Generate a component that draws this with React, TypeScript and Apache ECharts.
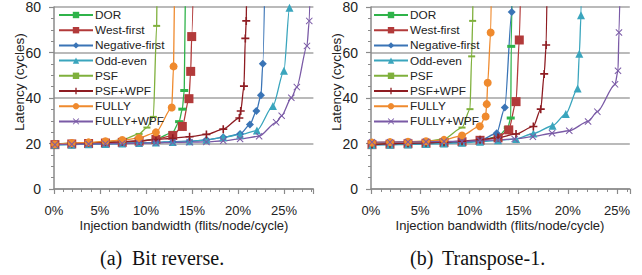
import React, { useEffect, useRef } from "react";
import * as echarts from "echarts";

const seriesNames = ["DOR", "West-first", "Negative-first", "Odd-even", "PSF", "PSF+WPF", "FULLY", "FULLY+WPF"];
const xTickValues = [0, 5, 10, 15, 20, 25];
const yTickValues = [0, 20, 40, 60, 80];

// (a) Bit reverse: [injection %, latency]
const bitDOR = [[0.1,19.6],[1.93,19.8],[3.76,20.0],[5.59,20.2],[7.42,20.5],[9.25,21.0],[11.08,22.0],[12.91,24.9],[13.6,29.6],[13.95,35.1],[14.16,43.3],[14.35,120]];
const bitWF = [[0.1,19.5],[1.93,19.8],[3.76,20.0],[5.59,20.2],[7.42,20.5],[9.25,21.0],[11.08,21.8],[12.91,23.5],[13.95,27.5],[14.67,39.7],[14.86,51.7],[14.97,67.0],[15.25,110]];
const bitNF = [[0.1,19.4],[1.93,19.6],[3.76,19.8],[5.59,19.9],[7.42,20.1],[9.25,20.3],[11.08,20.5],[12.91,20.8],[14.74,21.0],[16.57,21.6],[18.4,22.7],[20.23,24.2],[21.3,28.3],[22.0,34.3],[22.5,41.2],[22.7,55.1],[23.0,110]];
const bitOE = [[0.1,19.4],[1.93,19.5],[3.76,19.7],[5.59,19.8],[7.42,20.0],[9.25,20.2],[11.08,20.4],[12.91,20.7],[14.74,21.0],[16.57,21.6],[18.4,22.7],[20.23,23.9],[22.06,25.7],[23.8,36.5],[25.0,52.0],[25.6,79.7],[25.75,110]];
const bitPSF = [[0.1,19.8],[1.93,20.1],[3.76,20.3],[5.59,20.7],[7.42,21.6],[9.25,24.2],[10.1,27.0],[10.8,31.7],[11.16,71.7],[11.25,110]];
const bitPSFWPF = [[0.1,19.7],[1.93,20.0],[3.76,20.2],[5.59,20.5],[7.42,20.8],[9.25,21.2],[11.08,21.7],[12.91,22.3],[14.74,23.0],[16.57,24.0],[18.4,26.3],[20.15,31.2],[20.3,34.3],[20.65,45.2],[20.8,66.2],[20.9,73.9],[21.0,110]];
const bitFULLY = [[0.1,19.7],[1.93,20.2],[3.76,20.5],[5.59,21.0],[7.42,21.5],[9.25,22.4],[11.08,24.9],[12.8,35.8],[13.0,53.9],[13.15,110]];
const bitFWPF = [[0.1,19.5],[1.93,19.7],[3.76,19.8],[5.59,19.9],[7.42,20.0],[9.25,20.1],[11.08,20.3],[12.91,20.5],[14.74,20.6],[16.57,20.7],[18.4,21.2],[20.23,22.0],[22.3,23.2],[24.15,29.3],[24.75,32.2],[25.8,40.1],[26.4,44.8],[27.5,62.9],[27.75,73.9],[27.95,110]];

// (b) Transpose-1
const trDOR = [[0.1,19.5],[1.93,19.7],[3.76,19.9],[5.59,20.1],[7.42,20.3],[9.25,20.7],[11.08,21.3],[12.91,23.0],[13.9,27.0],[14.2,31.2],[14.25,62.7],[14.4,110]];
const trWF = [[0.1,19.5],[1.93,19.7],[3.76,19.9],[5.59,20.1],[7.42,20.4],[9.25,20.8],[11.08,21.4],[12.91,22.5],[14.0,26.0],[14.74,38.4],[15.07,65.5],[15.3,110]];
const trNF = [[0.1,19.4],[1.93,19.6],[3.76,19.8],[5.59,20.0],[7.42,20.2],[9.25,20.6],[11.08,21.3],[12.77,24.5],[13.6,35.8],[14.3,77.8],[14.4,110]];
const trOE = [[0.1,19.3],[1.93,19.4],[3.76,19.6],[5.59,19.8],[7.42,20.0],[9.25,20.3],[11.08,20.8],[12.91,21.4],[14.74,22.0],[16.5,24.4],[18.45,27.8],[19.8,33.0],[21.0,44.2],[21.17,59.4],[21.34,76.4],[21.45,110]];
const trPSF = [[0.1,20.3],[1.93,20.5],[3.76,20.7],[5.59,21.0],[7.42,22.0],[9.25,27.0],[10.06,35.1],[10.23,58.3],[10.33,73.9],[10.42,110]];
const trPSFWPF = [[0.1,19.6],[1.93,19.9],[3.76,20.1],[5.59,20.3],[7.42,20.6],[9.25,21.0],[11.08,21.7],[12.91,22.6],[14.74,24.2],[16.5,27.5],[17.25,35.1],[17.6,50.6],[17.8,63.3],[17.95,110]];
const trFULLY = [[0.1,20.4],[1.93,20.6],[3.76,20.8],[5.59,21.0],[7.42,21.6],[9.25,23.5],[11.05,27.6],[11.65,31.9],[11.76,37.3],[11.86,46.7],[12.16,68.8],[12.3,110]];
const trFWPF = [[0.1,20.6],[1.93,20.6],[3.76,20.7],[5.59,20.8],[7.42,20.9],[9.25,21.0],[11.08,21.3],[12.91,21.6],[14.6,22.0],[16.45,23.0],[18.4,24.5],[20.15,25.6],[22.06,29.7],[23.0,34.0],[24.8,46.0],[25.1,52.0],[25.2,68.8],[25.4,110]];

const bitData = [bitDOR, bitWF, bitNF, bitOE, bitPSF, bitPSFWPF, bitFULLY, bitFWPF];
const trData = [trDOR, trWF, trNF, trOE, trPSF, trPSFWPF, trFULLY, trFWPF];

const colors = ["#2fb34a", "#b23a3a", "#3a74b6", "#3aa5bd", "#7fb03c", "#8e1c22", "#ef8a2e", "#7a5aa6"];
const DASH = "path://M0,0H10V3H0Z";
const PLUS = "path://M4,0H6V4H10V6H6V10H4V6H0V4H4Z";
const CROSS = "path://M1,0L5,4L9,0L10,1L6,5L10,9L9,10L5,6L1,10L0,9L4,5L0,1Z";
const symbols = [DASH, "rect", "diamond", "triangle", DASH, PLUS, "circle", CROSS];
const symbolSizes: any[] = [[8, 3], 9, 8, 8, [7, 2], 8, 8, 7];

const SANS = "Liberation Sans, Arial, Helvetica, sans-serif";
const SERIF = "Liberation Serif, Times New Roman, serif";

export default function App() {
  const ref = useRef<HTMLDivElement>(null);
  useEffect(() => {
    const chart = echarts.init(ref.current!, null, { renderer: "svg" });
    const grids = [
      { left: 54, top: 5, width: 259.4, height: 184 },
      { left: 371, top: 5, width: 258.8, height: 184 },
    ];
    const maxes = [28.2, 26.3];
    const xAxes = [0, 1].map((i) => ({
      type: "value",
      gridIndex: i,
      min: 0,
      max: maxes[i],
      interval: 5,
      axisLine: { show: true, lineStyle: { color: "#8a8a8a", width: 1.5 } },
      axisTick: { show: true, length: 5, lineStyle: { color: "#8a8a8a", width: 1.2 } },
      minorTick: { show: true, splitNumber: 5, length: 3, lineStyle: { color: "#8a8a8a", width: 1 } },
      splitLine: { show: false },
      axisLabel: {
        showMaxLabel: false,
        formatter: (v: number) => (xTickValues.includes(v) ? v + "%" : ""),
        fontSize: 13,
        fontFamily: SANS,
        color: "#222",
        margin: 15,
      },
    }));
    const yAxes = [0, 1].map((i) => ({
      type: "value",
      gridIndex: i,
      min: 0,
      max: 80,
      interval: 20,
      axisLine: { show: true, lineStyle: { color: "#8a8a8a", width: 1.5 } },
      axisTick: { show: true, length: 5, lineStyle: { color: "#8a8a8a", width: 1.2 } },
      minorTick: { show: true, splitNumber: 4, length: 3, lineStyle: { color: "#8a8a8a", width: 1 } },
      splitLine: { show: true, lineStyle: { color: "#a3a3a3", width: 1.5 } },
      axisLabel: {
        formatter: (v: number) => (yTickValues.includes(v) ? String(v) : ""),
        fontSize: 14,
        fontFamily: SANS,
        color: "#222",
        margin: 13,
      },
    }));
    const series: any[] = [];
    [bitData, trData].forEach((set, gi) => {
      set.forEach((d, si) => {
        series.push({
          type: "line",
          name: seriesNames[si],
          xAxisIndex: gi,
          yAxisIndex: gi,
          data: d,
          smooth: 0.25,
          smoothMonotone: "x",
          symbol: symbols[si],
          symbolSize: symbolSizes[si],
          showAllSymbol: true,
          clip: true,
          lineStyle: { width: 1.3, color: colors[si] },
          itemStyle: { color: colors[si] },
          emphasis: { disabled: true },
        });
      });
    });
    const legendBase = {
      orient: "vertical",
      top: 3,
      itemWidth: 34,
      itemHeight: 8,
      itemGap: 1.2,
      selectedMode: false,
      textStyle: { fontSize: 11.8, fontFamily: SANS, color: "#222", lineHeight: 14, padding: [0, 0, 0, -3] },
      data: seriesNames,
    };
    chart.setOption({
      animation: false,
      backgroundColor: "#ffffff",
      grid: grids,
      xAxis: xAxes,
      yAxis: yAxes,
      legend: [
        { ...legendBase, left: 53 },
        { ...legendBase, left: 368 },
      ],
      series,
      graphic: [
        { type: "text", x: 19, y: 82, rotation: Math.PI / 2, style: { text: "Latency (cycles)", font: `13.5px ${SANS}`, fill: "#222", textAlign: "center", textVerticalAlign: "middle" } },
        { type: "text", x: 336, y: 82, rotation: Math.PI / 2, style: { text: "Latency (cycles)", font: `13.5px ${SANS}`, fill: "#222", textAlign: "center", textVerticalAlign: "middle" } },
        { type: "text", x: 184, y: 225, style: { text: "Injection bandwidth (flits/node/cycle)", font: `13px ${SANS}`, fill: "#222", textAlign: "center", textVerticalAlign: "middle" } },
        { type: "text", x: 500, y: 225, style: { text: "Injection bandwidth (flits/node/cycle)", font: `13px ${SANS}`, fill: "#222", textAlign: "center", textVerticalAlign: "middle" } },
        { type: "text", x: 100, y: 258, style: { text: "(a)", font: `20px ${SERIF}`, fill: "#111", textAlign: "left", textVerticalAlign: "middle" } },
        { type: "text", x: 132, y: 258, style: { text: "Bit reverse.", font: `20px ${SERIF}`, fill: "#111", textAlign: "left", textVerticalAlign: "middle" } },
        { type: "text", x: 410, y: 258, style: { text: "(b)", font: `20px ${SERIF}`, fill: "#111", textAlign: "left", textVerticalAlign: "middle" } },
        { type: "text", x: 442, y: 258, style: { text: "Transpose-1.", font: `20px ${SERIF}`, fill: "#111", textAlign: "left", textVerticalAlign: "middle" } },
      ],
    } as any);
    return () => chart.dispose();
  }, []);
  return <div ref={ref} style={{ position: "fixed", left: 0, top: 0, width: 642, height: 275 }} />;
}
